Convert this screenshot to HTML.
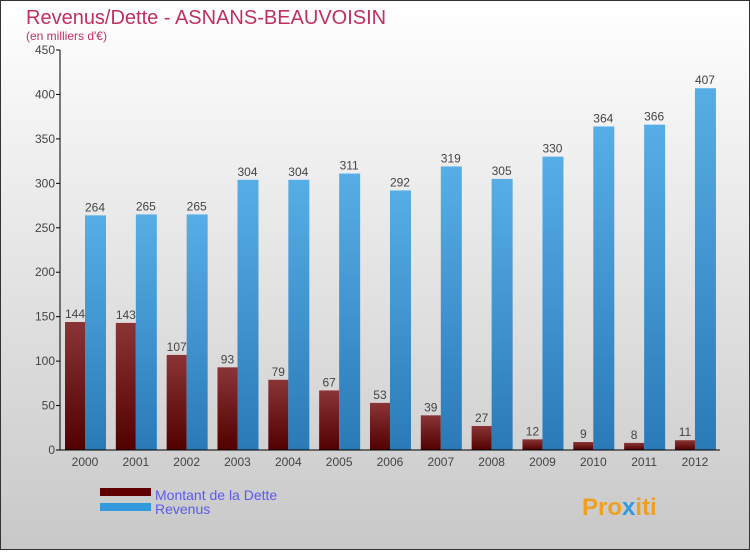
<!DOCTYPE html>
<html><head><meta charset="utf-8"><style>
body{margin:0}
#c{width:750px;height:550px;position:relative;font-family:"Liberation Sans",sans-serif}
text{font-family:"Liberation Sans",sans-serif}
</style></head><body>
<div id="c">
<svg id="s" width="750" height="550" xmlns="http://www.w3.org/2000/svg">
<defs>
<linearGradient id="bg" x1="0" y1="0" x2="0" y2="1"><stop offset="0" stop-color="#ffffff"/><stop offset="1" stop-color="#c8c8c8"/></linearGradient>
<linearGradient id="gd" x1="0" y1="0" x2="0" y2="1"><stop offset="0" stop-color="#8a3436"/><stop offset="1" stop-color="#520000"/></linearGradient>
<linearGradient id="gr" x1="0" y1="0" x2="0" y2="1"><stop offset="0" stop-color="#57aee6"/><stop offset="1" stop-color="#2a7ab8"/></linearGradient>
</defs>
<rect x="0.5" y="0.5" width="749" height="549" fill="url(#bg)" stroke="#333"/>
<text x="26" y="24" font-size="20" fill="#c0305f">Revenus/Dette - ASNANS-BEAUVOISIN</text>
<text x="26" y="40" font-size="12" fill="#c0305f">(en milliers d'€)</text>
<g id="plot"></g>
<rect x="100" y="488" width="51" height="8" fill="#600000"/>
<text x="155" y="500" font-size="14" fill="#5a5af0">Montant de la Dette</text>
<rect x="100" y="503" width="51" height="8" fill="#3399dd"/>
<text x="155" y="514" font-size="14" fill="#5a5af0">Revenus</text>
<text x="582" y="515" font-size="24" font-weight="bold" fill="#f0a020">Pro<tspan fill="#3399dd">x</tspan>iti</text>
</svg>
</div>
<script>
const years=["2000","2001","2002","2003","2004","2005","2006","2007","2008","2009","2010","2011","2012"];
const dette=[144,143,107,93,79,67,53,39,27,12,9,8,11];
const revenus=[264,265,265,304,304,311,292,319,305,330,364,366,407];
const yTicks=[0,50,100,150,200,250,300,350,400,450];
const NS="http://www.w3.org/2000/svg";
const g=document.getElementById('plot');
const y0=450,yTop=50,yMax=450;
const yS=v=>y0-(v/yMax)*(y0-yTop);
const xC=i=>85+i*50.83;
function mk(t,a){const e=document.createElementNS(NS,t);for(const k in a)e.setAttribute(k,a[k]);g.appendChild(e);return e;}
yTicks.forEach(v=>{
  const l=mk('line',{x1:56,x2:60,y1:yS(v),y2:yS(v),stroke:'#000'});
  
  
  const t=mk('text',{x:55,y:yS(v)+4,'font-size':12,fill:'#444','text-anchor':'end'});
  t.textContent=v;
  
  
});
years.forEach((yr,i)=>{
  const c=xC(i);
  const d=mk('rect',{x:c-20,y:yS(dette[i]),width:20,height:y0-yS(dette[i]),fill:'url(#gd)'});
  
  
  const r=mk('rect',{x:c,y:yS(revenus[i]),width:21,height:y0-yS(revenus[i]),fill:'url(#gr)'});
  
  
  const dl=mk('text',{x:c-10,y:yS(dette[i])-4,'font-size':12,fill:'#444','text-anchor':'middle'});
  dl.textContent=dette[i];
  
  
  const rl=mk('text',{x:c+10,y:yS(revenus[i])-4,'font-size':12,fill:'#444','text-anchor':'middle'});
  rl.textContent=revenus[i];
  
  
  const xl=mk('text',{x:c,y:466,'font-size':12,fill:'#444','text-anchor':'middle'});
  xl.textContent=yr;
  
  
});
const ya=mk('line',{x1:60,x2:60,y1:50,y2:450,stroke:'#000'});


const xa=mk('line',{x1:60,x2:720,y1:450,y2:450,stroke:'#000'});


</script>
</body></html>
